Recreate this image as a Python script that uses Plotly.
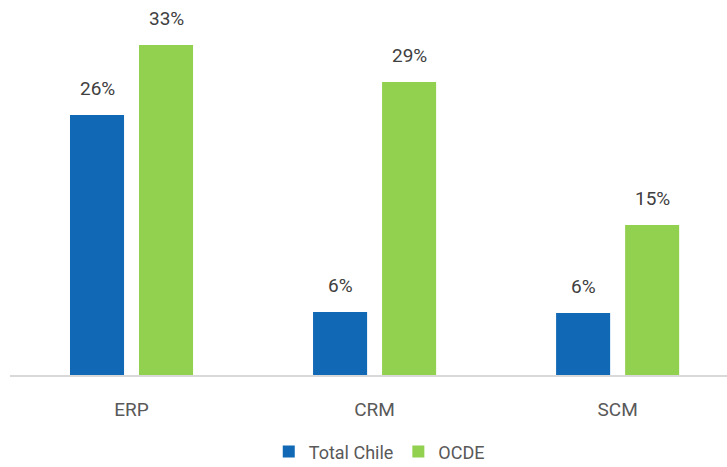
import plotly.graph_objects as go

categories = ["ERP", "CRM", "SCM"]
series_names = ["Total Chile", "OCDE"]
chile_values = [26.0, 6.3, 6.2]
ocde_values = [33.0, 29.3, 15.0]
colors = ["#1168B4", "#92D050"]

font_family = "Roboto, Arial"
text_color = "#404040"

fig = go.Figure()
for name, vals, col in zip(series_names, [chile_values, ocde_values], colors):
    fig.add_trace(go.Bar(
        name=name, x=categories, y=vals, marker=dict(color=col, line=dict(width=0)),
    ))

annotations = []
for vals, shift in zip([chile_values, ocde_values], [-34.5, 34.5]):
    for c, v in zip(categories, vals):
        annotations.append(dict(
            x=c, y=v, xref="x", yref="y", text=f"{v:.0f}%", showarrow=False,
            xshift=shift, yshift=27, yanchor="middle",
            font=dict(size=19, color=text_color, family=font_family),
        ))

fig.update_layout(
    width=727, height=467,
    margin=dict(l=10, r=0, t=0, b=92, autoexpand=False),
    plot_bgcolor="white", paper_bgcolor="white",
    barmode="group", bargap=0.432, bargroupgap=0.217,
    font=dict(family=font_family, color=text_color),
    showlegend=True,
    annotations=annotations,
    legend=dict(orientation="h", x=0.515, xanchor="center", y=-0.205, yanchor="middle",
                font=dict(size=18, color="#595959", family=font_family),
                traceorder="normal"),
    xaxis=dict(range=[-0.5, 2.45], showline=True, linecolor="#D9D9D9", linewidth=2,
               tickfont=dict(size=19, color="#595959", family=font_family),
               ticklabelstandoff=16, showgrid=False, zeroline=False, automargin=False),
    yaxis=dict(range=[0, 37.5], visible=False, showgrid=False, zeroline=False),
)
fig.write_html("out.html")
